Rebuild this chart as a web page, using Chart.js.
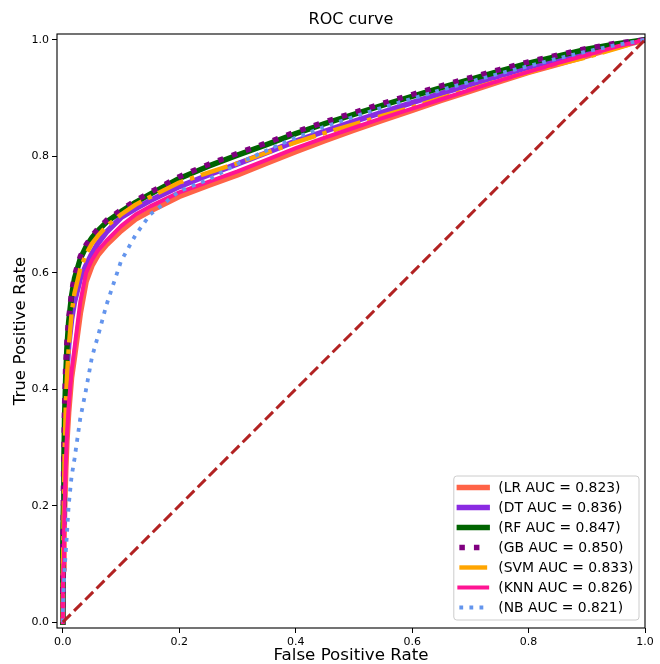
<!DOCTYPE html>
<html>
<head>
<meta charset="utf-8">
<script src="https://cdn.jsdelivr.net/npm/chart.js@4/dist/chart.umd.min.js"></script>
<style>html,body{margin:0;padding:0;background:#fff}canvas{display:block}</style>
</head>
<body>
<canvas id="c" width="660" height="664"></canvas>
<script>
// ---- data ----
const fpr = [0,0,0.001,0.002,0.003,0.005,0.007,0.01,0.015,0.02,0.03,0.04,0.05,0.06,0.075,0.1,0.125,0.15,0.2,0.25,0.3,0.35,0.4,0.45,0.5,0.55,0.6,0.65,0.7,0.75,0.8,0.85,0.9,0.95,1];
const tprLR  = [0,0.05,0.09,0.14,0.19,0.26,0.31,0.36,0.42,0.455,0.53,0.585,0.612,0.63,0.648,0.672,0.692,0.706,0.731,0.75,0.768,0.788,0.808,0.827,0.845,0.862,0.879,0.896,0.912,0.928,0.944,0.958,0.972,0.987,1];
const tprDT  = [0,0.1,0.17,0.24,0.3,0.38,0.43,0.475,0.52,0.55,0.59,0.613,0.633,0.65,0.67,0.695,0.71,0.724,0.748,0.768,0.787,0.806,0.826,0.843,0.86,0.876,0.892,0.908,0.923,0.938,0.953,0.967,0.979,0.99,1];
const tprRF  = [0,0.12,0.2,0.28,0.35,0.42,0.47,0.515,0.56,0.59,0.624,0.645,0.66,0.672,0.687,0.705,0.721,0.735,0.762,0.783,0.802,0.82,0.839,0.856,0.872,0.888,0.903,0.918,0.932,0.946,0.96,0.972,0.984,0.993,1];
const tprGB  = [0,0.1,0.22,0.3,0.37,0.44,0.48,0.52,0.565,0.595,0.628,0.648,0.663,0.675,0.69,0.708,0.724,0.738,0.765,0.786,0.805,0.823,0.842,0.859,0.875,0.891,0.906,0.921,0.935,0.949,0.962,0.974,0.985,0.994,1];
const tprSVM = [0,0.08,0.15,0.22,0.29,0.37,0.42,0.47,0.53,0.565,0.607,0.632,0.65,0.663,0.68,0.7,0.717,0.73,0.755,0.772,0.788,0.806,0.824,0.84,0.855,0.87,0.884,0.9,0.915,0.93,0.944,0.958,0.97,0.985,1];
const tprKNN = [0,0.05,0.1,0.15,0.2,0.27,0.32,0.37,0.43,0.47,0.55,0.6,0.622,0.638,0.655,0.68,0.7,0.714,0.738,0.756,0.774,0.794,0.814,0.832,0.849,0.866,0.882,0.898,0.914,0.93,0.945,0.96,0.974,0.988,1];
const tprNB  = [0,0.02,0.05,0.07,0.09,0.12,0.15,0.2,0.25,0.28,0.35,0.4,0.455,0.49,0.545,0.62,0.665,0.7,0.74,0.76,0.787,0.81,0.832,0.851,0.868,0.884,0.899,0.914,0.928,0.942,0.955,0.968,0.98,0.991,1];
const modelNames = ['LR','DT','RF','GB','SVM','KNN','NB'];
const aucValues  = [0.823,0.836,0.847,0.850,0.833,0.826,0.821];
const chanceX = [0,1];
const chanceY = [0,1];
const tickValues = [0,0.2,0.4,0.6,0.8,1.0];

// ---- styles ----
const FONT = "'DejaVu Sans', sans-serif";
const dotted = w => [w*1, w*1.65];
const dashdot = w => [w*6.4, w*1.6, w*1, w*1.6];
const dashed = w => [w*3.7, w*1.6];
const seriesStyles = [
  {color:'#FF6347', width:5.5, dash:[], cap:'square'},
  {color:'#8A2BE2', width:5.5, dash:[], cap:'square'},
  {color:'#006400', width:5.5, dash:[], cap:'square'},
  {color:'#800080', width:5.5, dash:dotted(5.5), cap:'butt'},
  {color:'#FFA500', width:4.4, dash:dashdot(4.4), cap:'butt'},
  {color:'#FF1493', width:4, dash:[], cap:'square'},
  {color:'#6495ED', width:3.8, dash:dotted(3.8), cap:'butt'}
];
const tprs = [tprLR,tprDT,tprRF,tprGB,tprSVM,tprKNN,tprNB];

const datasets = modelNames.map((m,i)=>({
  label: `(${m} AUC = ${aucValues[i].toFixed(3)})`,
  data: fpr.map((x,j)=>({x:x, y:tprs[i][j]})),
  borderColor: seriesStyles[i].color,
  borderWidth: seriesStyles[i].width,
  borderDash: seriesStyles[i].dash,
  borderCapStyle: seriesStyles[i].cap,
  borderJoinStyle: 'round',
  pointRadius: 0, fill: false, tension: 0,
  order: 7 - i
}));
datasets.push({
  label: 'chance',
  data: chanceX.map((x,j)=>({x:x, y:chanceY[j]})),
  borderColor: '#B22222', borderWidth: 3, borderDash: dashed(3), borderCapStyle:'butt',
  pointRadius: 0, fill:false, tension:0, order: 0
});

const framePlugin = {
  id: 'frameLegend',
  afterDatasetsDraw(chart) {
    const {ctx, chartArea: a} = chart;
    ctx.save();
    ctx.setLineDash([]);
    ctx.strokeStyle = '#000'; ctx.lineWidth = 1.1;
    ctx.strokeRect(a.left, a.top, a.right - a.left, a.bottom - a.top);
    // legend in lower right
    const fs = 13.9;
    ctx.font = `${fs}px ${FONT}`;
    const labels = datasets.slice(0, modelNames.length).map(d => d.label);
    const tw = Math.max(...labels.map(l => ctx.measureText(l).width));
    const right = a.right - 6, bottom = a.bottom - 8;
    const width = (0.4 + 2 + 0.8 + 0.4) * fs + tw;
    const height = 144;
    const left = right - width, top = bottom - height;
    ctx.beginPath();
    if (ctx.roundRect) ctx.roundRect(left, top, width, height, 3); else ctx.rect(left, top, width, height);
    ctx.fillStyle = 'rgba(255,255,255,0.8)'; ctx.fill();
    ctx.strokeStyle = '#cccccc'; ctx.lineWidth = 1; ctx.stroke();
    labels.forEach((l, i) => {
      const cy = top + 11.5 + i * 20;
      const st = seriesStyles[i];
      const hx0 = left + 0.4 * fs, hx1 = hx0 + 2 * fs;
      ctx.beginPath();
      ctx.setLineDash(st.dash);
      ctx.lineCap = st.cap;
      ctx.lineWidth = st.width;
      ctx.strokeStyle = st.color;
      ctx.moveTo(hx0, cy); ctx.lineTo(hx1, cy); ctx.stroke();
      ctx.setLineDash([]);
      ctx.fillStyle = '#000';
      ctx.textBaseline = 'middle'; ctx.textAlign = 'left';
      ctx.fillText(l, hx1 + 0.8 * fs, cy + 0.5);
    });
    ctx.restore();
  }
};

const tickCfg = {
  callback: v => Number(v).toFixed(1),
  font: {family: FONT, size: 11}, color: '#000', padding: 3,
  maxRotation: 0, autoSkip: false
};
const gridCfg = {drawOnChartArea: false, drawTicks: true, tickLength: 5, tickColor: '#000', tickWidth: 1, color: '#000'};

new Chart(document.getElementById('c'), {
  type: 'line',
  data: {datasets},
  options: {
    responsive: false, animation: false, devicePixelRatio: 1,
    layout: {padding: {left: 12, right: 15, top: 0, bottom: 0}},
    plugins: {
      legend: {display: false}, tooltip: {enabled: false},
      title: {display: true, text: 'ROC curve', fullSize: false, color: '#000',
              font: {family: FONT, size: 16, weight: 'normal'}, padding: {top: 10, bottom: 4.8}}
    },
    scales: {
      x: {type: 'linear', min: -0.01, max: 1.0,
          afterBuildTicks: s => { s.ticks = tickValues.map(v => ({value: v})); },
          afterFit: s => { s.height = 36; },
          ticks: tickCfg, grid: gridCfg, border: {display: false},
          title: {display: true, text: 'False Positive Rate', color: '#000',
                  font: {family: FONT, size: 16.7, lineHeight: 1.0}, padding: {top: 0, bottom: 0}}},
      y: {type: 'linear', min: -0.01, max: 1.01,
          afterBuildTicks: s => { s.ticks = tickValues.map(v => ({value: v})); },
          afterFit: s => { s.width = 45; },
          ticks: tickCfg, grid: gridCfg, border: {display: false},
          title: {display: true, text: 'True Positive Rate', color: '#000',
                  font: {family: FONT, size: 16.7, lineHeight: 1.0}, padding: {top: 0, bottom: 0}}}
    }
  },
  plugins: [framePlugin]
});
</script>
</body>
</html>
